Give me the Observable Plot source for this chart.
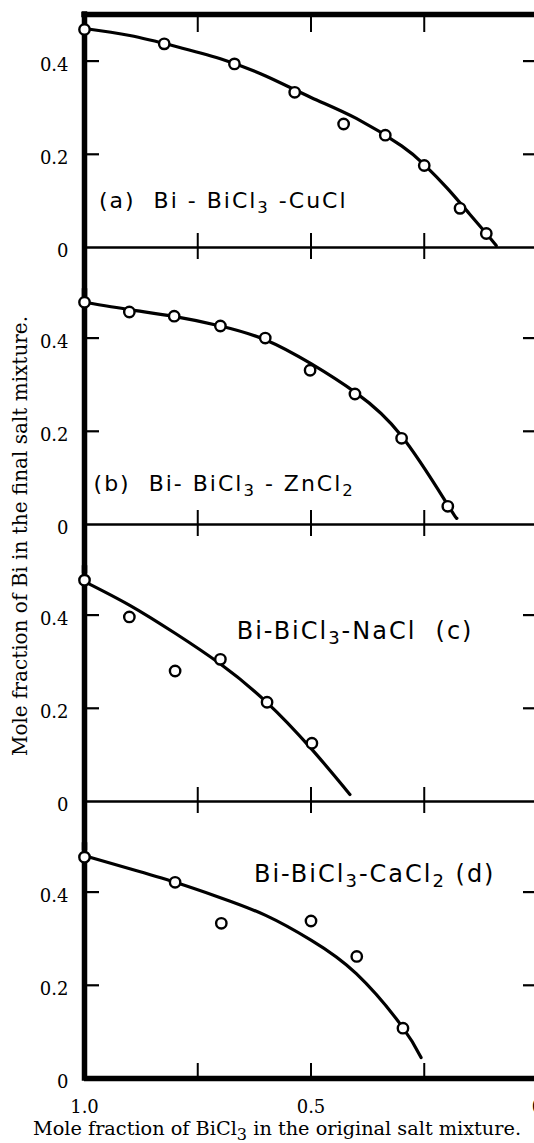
<!DOCTYPE html>
<html>
<head>
<meta charset="utf-8">
<script src="https://cdn.jsdelivr.net/npm/d3@7"></script>
<script src="https://cdn.jsdelivr.net/npm/@observablehq/plot@0.6"></script>
<style>
html, body { margin: 0; padding: 0; overflow: hidden; background: #fff; width: 534px; height: 1143px; }
#wrap { position: relative; width: 534px; height: 1143px; overflow: hidden; }
.panel { position: absolute; left: 0; }
.panel svg { max-width: none !important; overflow: visible; }
.lab { position: absolute; font-family: "DejaVu Serif", serif; white-space: nowrap; color: #000; line-height: 1; }
</style>
</head>
<body>
<div id="wrap"></div>
<script>
// ---- tick values ----
const xTickValues = [0.75, 0.5, 0.25];
const xTickLabelValues = [1.0, 0.5, 0];
const yTickValues = [0.2, 0.4];
const yTickLabelValues = [0, 0.2, 0.4];

// ---- panel (a) Bi-BiCl3-CuCl ----
const aX = [1.0, 0.824, 0.669, 0.536, 0.428, 0.336, 0.25, 0.171, 0.113];
const aY = [0.468, 0.437, 0.394, 0.333, 0.265, 0.241, 0.176, 0.084, 0.030];
const aCurveX = [1.0, 0.9, 0.8, 0.7, 0.6, 0.5, 0.4, 0.3, 0.25, 0.2, 0.15, 0.113, 0.091];
const aCurveY = [0.470, 0.455, 0.432, 0.405, 0.368, 0.322, 0.277, 0.218, 0.178, 0.128, 0.072, 0.030, 0.004];

// ---- panel (b) Bi-BiCl3-ZnCl2 ----
const bX = [1.0, 0.901, 0.802, 0.70, 0.601, 0.502, 0.403, 0.30, 0.198];
const bY = [0.477, 0.456, 0.447, 0.426, 0.400, 0.331, 0.280, 0.185, 0.039];
const bCurveX = [1.0, 0.9, 0.8, 0.7, 0.6, 0.5, 0.4, 0.3, 0.2, 0.178];
const bCurveY = [0.477, 0.461, 0.446, 0.426, 0.396, 0.345, 0.282, 0.190, 0.045, 0.013];

// ---- panel (c) Bi-BiCl3-NaCl ----
const cX = [1.0, 0.901, 0.80, 0.70, 0.597, 0.498];
const cY = [0.475, 0.396, 0.280, 0.305, 0.213, 0.125];
const cCurveX = [1.0, 0.9, 0.8, 0.7, 0.6, 0.5, 0.414];
const cCurveY = [0.472, 0.421, 0.361, 0.295, 0.215, 0.114, 0.015];

// ---- panel (d) Bi-BiCl3-CaCl2 ----
const dX = [1.0, 0.80, 0.698, 0.50, 0.399, 0.297];
const dY = [0.475, 0.421, 0.333, 0.338, 0.262, 0.108];
const dCurveX = [1.0, 0.9, 0.8, 0.7, 0.6, 0.5, 0.4, 0.3, 0.257];
const dCurveY = [0.478, 0.450, 0.421, 0.388, 0.350, 0.297, 0.225, 0.113, 0.045];

// ---- labels ----
const panelLabels = ["(a)  Bi - BiCl₃ -CuCl", "(b)  Bi- BiCl₃ - ZnCl₂", "Bi-BiCl₃-NaCl  (c)", "Bi-BiCl₃-CaCl₂ (d)"];
const labelX = [0.968, 0.98, 0.664, 0.626];
const labelY = [0.10, 0.088, 0.366, 0.439];
const labelSize = [22, 22, 24, 24];
const yAxisLabel = "Mole fraction of Bi in the final salt mixture.";
const xAxisLabelHTML = "Mole fraction of BiCl<sub>3</sub> in the original salt mixture.";

// ---- layout ----
const U = 466;            // px per unit of y
const W = 540, ML = 84, XR = 537;
const plotW = XR - ML;
const zeros = [247, 524, 801, 1078];
const serif = "DejaVu Serif";
const sans = "DejaVu Sans";

function zip(xs, ys) { return xs.map((x, i) => ({x, y: ys[i]})); }

const panels = [
  {pts: zip(aX, aY), curve: zip(aCurveX, aCurveY)},
  {pts: zip(bX, bY), curve: zip(bCurveX, bCurveY)},
  {pts: zip(cX, cY), curve: zip(cCurveX, cCurveY)},
  {pts: zip(dX, dY), curve: zip(dCurveX, dCurveY)}
];

function subscriptify(svg) {
  const NS = "http://www.w3.org/2000/svg";
  const map = {"₂": "2", "₃": "3"};
  svg.querySelectorAll("text").forEach(t => {
    const s = t.textContent;
    if (!/[₂₃]/.test(s)) return;
    while (t.firstChild) t.removeChild(t.firstChild);
    t.setAttribute("letter-spacing", "2");
    let buf = "", shifted = false;
    const flush = () => {
      if (!buf) return;
      const ts = document.createElementNS(NS, "tspan");
      if (shifted) { ts.setAttribute("dy", "-5"); shifted = false; }
      ts.textContent = buf; t.appendChild(ts); buf = "";
    };
    for (const ch of s) {
      if (map[ch]) {
        flush();
        const ts = document.createElementNS(NS, "tspan");
        ts.setAttribute("dy", shifted ? "0" : "5");
        ts.setAttribute("font-size", "75%");
        ts.textContent = map[ch];
        t.appendChild(ts);
        shifted = true;
      } else buf += ch;
    }
    flush();
  });
}

const wrap = document.getElementById("wrap");

panels.forEach((p, i) => {
  const first = i === 0, last = i === panels.length - 1;
  const yMin = last ? 0 : -0.1;
  const mt = first ? 14 : 0;
  const mb = last ? 65 : 0;
  const h = (0.5 - yMin) * U;
  const marks = [
    Plot.ruleY([0], {stroke: "#000", strokeWidth: last ? 5.5 : 2.6}),
    Plot.ruleX([1.0], {stroke: "#000", strokeWidth: 5.5, strokeLinecap: "square"}),
    Plot.ruleY(yTickValues, {stroke: "#000", strokeWidth: 2.2, insetRight: plotW - 15}),
    Plot.ruleY(yTickValues, {stroke: "#000", strokeWidth: 2.2, insetLeft: plotW - 14}),
    Plot.axisY({ticks: yTickLabelValues, tickSize: 0, tickPadding: 16, dy: 4, label: null,
      tickFormat: d => d === 0 ? "0" : d.toFixed(1), fontFamily: serif, fontSize: 18, fill: "#000"}),
    Plot.line(p.curve, {x: "x", y: "y", curve: "natural", stroke: "#000", strokeWidth: 3.2}),
    Plot.dot(p.pts, {x: "x", y: "y", r: 5.2, stroke: "#000", strokeWidth: 2.4, fill: "#fff"}),
    Plot.text([{x: labelX[i], y: labelY[i], t: panelLabels[i]}], {x: "x", y: "y", text: "t",
      textAnchor: "start", fontFamily: sans, fontSize: labelSize[i], fill: "#000"})
  ];
  if (first) {
    marks.push(Plot.ruleY([0.5], {stroke: "#000", strokeWidth: 5.5, strokeLinecap: "square"}));
    marks.push(Plot.ruleX(xTickValues, {y1: 0.5, y2: 0.5 - 18 / U, stroke: "#000", strokeWidth: 2}));
  }
  if (last) {
    marks.push(Plot.ruleX(xTickValues, {y1: 0, y2: 15 / U, stroke: "#000", strokeWidth: 2}));
    marks.push(Plot.axisX({ticks: xTickLabelValues, tickSize: 0, tickPadding: 22, label: null,
      tickFormat: d => d === 0 ? "0" : d.toFixed(1), fontFamily: serif, fontSize: 18, fill: "#000"}));
  } else {
    marks.push(Plot.ruleX(xTickValues, {y1: -12 / U, y2: 14 / U, stroke: "#000", strokeWidth: 2}));
  }
  const chart = Plot.plot({
    width: W,
    height: mt + h + mb,
    marginTop: mt, marginBottom: mb, marginLeft: ML, marginRight: W - XR,
    x: {domain: [1.0, 0], axis: last ? undefined : null},
    y: {domain: [yMin, 0.5]},
    style: {background: "none", overflow: "visible", maxWidth: "none"},
    marks
  });
  subscriptify(chart);
  const div = document.createElement("div");
  div.className = "panel";
  div.style.top = (zeros[i] - 0.5 * U - mt) + "px";
  div.appendChild(chart);
  wrap.appendChild(div);
});

// y-axis title (rotated) spanning the panels
const yl = document.createElement("div");
yl.className = "lab";
yl.style.fontSize = "20px";
yl.textContent = yAxisLabel;
yl.style.left = "20px";
yl.style.top = "536px";
yl.style.transform = "translate(-50%, -50%) rotate(-90deg)";
wrap.appendChild(yl);

// x-axis title
const xl = document.createElement("div");
xl.className = "lab";
xl.style.fontSize = "19.3px";
xl.innerHTML = xAxisLabelHTML;
xl.style.left = "277px";
xl.style.top = "1131px";
xl.style.transform = "translate(-50%, -50%)";
wrap.appendChild(xl);
</script>
</body>
</html>
